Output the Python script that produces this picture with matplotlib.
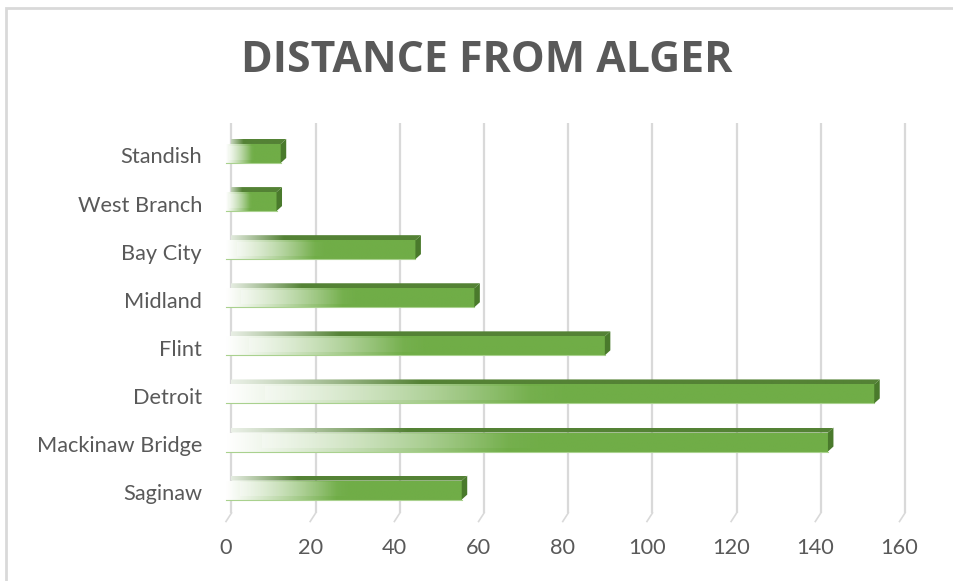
import numpy as np
import matplotlib
matplotlib.use("Agg")
import matplotlib.pyplot as plt
from matplotlib.patches import Polygon, Rectangle
from matplotlib.colors import to_rgb

# Distances (miles) from Alger, listed bottom to top
cities = ["Saginaw", "Mackinaw Bridge", "Detroit", "Flint",
          "Midland", "Bay City", "West Branch", "Standish"]
distances = [56, 143, 154, 90, 59, 45, 12, 13]
x_ticks = [0, 20, 40, 60, 80, 100, 120, 140, 160]
title = "DISTANCE FROM ALGER"

W, H, DPI = 954, 581, 100
fig = plt.figure(figsize=(W / DPI, H / DPI), dpi=DPI)
fig.patch.set_facecolor("white")

# chart-area border (left and top edges visible)
fig.patches.append(Rectangle((6.5 / W, -0.1), 1.2, (H - 7.5) / H + 0.1,
                             transform=fig.transFigure, fill=False,
                             edgecolor="#d9d9d9", lw=2.0))

# back wall of the 3-D plot, in pixels
left_px, right_px = 231.5, 905.0
top_px, bot_px = 123.0, 513.0
ax = fig.add_axes([left_px / W, (H - bot_px) / H,
                   (right_px - left_px) / W, (bot_px - top_px) / H])
ax.set_axis_off()

XMAX = 160.0
ylo, yhi = -0.58, 7.53
px_per_x = (right_px - left_px) / XMAX
px_per_y = (bot_px - top_px) / (yhi - ylo)

# depth offset between the front of the bars and the back wall
depth_px_x, depth_px_y = 5.5, 5.0
dx = depth_px_x / px_per_x
dy = depth_px_y / px_per_y

green = np.array(to_rgb("#70ad47"))
top_green = np.array(to_rgb("#548235"))
side_green = np.array(to_rgb("#4a7a2c"))
grid_c = "#d9d9d9"

# gridlines on the back wall plus the floor stubs
for t in x_ticks:
    ax.plot([t, t], [ylo, yhi], color=grid_c, lw=1.6, clip_on=False,
            solid_capstyle="butt", zorder=1)
    ax.plot([t, t - dx], [ylo, ylo - 1.7 * dy], color=grid_c, lw=1.2,
            clip_on=False, zorder=1)


def ramp(base, n=400, frac=0.47, low=(1.0, 1.0, 1.0)):
    """Pale-to-colour ramp reaching full colour at `frac` of the length."""
    t = np.clip(np.linspace(0, 1, n) / frac, 0, 1) ** 1.1
    low = np.array(low)
    return (1 - t)[:, None] * low + t[:, None] * base


bar_h = 19.0 / px_per_y
for i, (name, v) in enumerate(zip(cities, distances)):
    cy = i - dy                      # front-face centre
    y0, y1 = cy - bar_h / 2, cy + bar_h / 2
    x0, x1 = -dx, v - dx

    # front face with horizontal gradient
    rgb = ramp(green)
    img = np.concatenate([rgb, np.ones((rgb.shape[0], 1))], axis=1)[None, :, :]
    ax.imshow(img, extent=[x0, x1, y0, y1], aspect="auto",
              interpolation="bilinear", zorder=3, clip_on=False)

    # soft inner highlight on the left part of the bar
    hl = np.zeros((1, 400, 4))
    s = np.linspace(0, 1, 400)
    hl[0, :, :3] = 1.0
    hl[0, :, 3] = np.clip(0.3 * (1 - s / 0.5), 0, None)
    ax.imshow(hl, extent=[x0 + 0.06 * v, x1, y0 + 0.18 * bar_h, y1 - 0.12 * bar_h],
              aspect="auto", interpolation="bilinear", zorder=3.5, clip_on=False)

    # light bottom edge
    ax.plot([x0, x1], [y0, y0], color="#a9d18e", lw=0.8, zorder=3.6, clip_on=False)

    # top face: gradient from pale grey-green to dark green
    trgb = ramp(top_green, frac=0.3, low=(0.93, 0.95, 0.92))
    timg = np.concatenate([trgb, np.ones((trgb.shape[0], 1))], axis=1)[None, :, :]
    top_poly = Polygon([(x0, y1), (x1, y1), (v, y1 + dy), (0, y1 + dy)],
                       closed=True, transform=ax.transData)
    tim = ax.imshow(timg, extent=[x0, v, y1, y1 + dy], aspect="auto",
                    interpolation="bilinear", zorder=3, clip_on=True)
    tim.set_clip_path(top_poly)

    # right side face
    ax.add_patch(Polygon([(x1, y0), (v, y0 + dy), (v, y1 + dy), (x1, y1)],
                         closed=True, facecolor=side_green, edgecolor="none",
                         zorder=4, clip_on=False))

    # category label
    ax.text((202 - left_px) / px_per_x, cy - 4.0 / px_per_y, name,
            ha="right", va="center", fontsize=15.7, color="#595959",
            family="Lato", clip_on=False)

# value axis labels on the front plane
for t in x_ticks:
    ax.text(t - dx, ylo - (548 - bot_px) / px_per_y, str(t), ha="center",
            va="center", fontsize=15.7, color="#595959", family="Lato",
            clip_on=False)

ax.set_xlim(0, XMAX)
ax.set_ylim(ylo, yhi)

fig.text(487 / W, 1 - 61 / H, title, ha="center", va="center",
         fontsize=30.8, fontweight="bold", color="#595959", family="Open Sans")

fig.savefig("out.png", dpi=DPI)
